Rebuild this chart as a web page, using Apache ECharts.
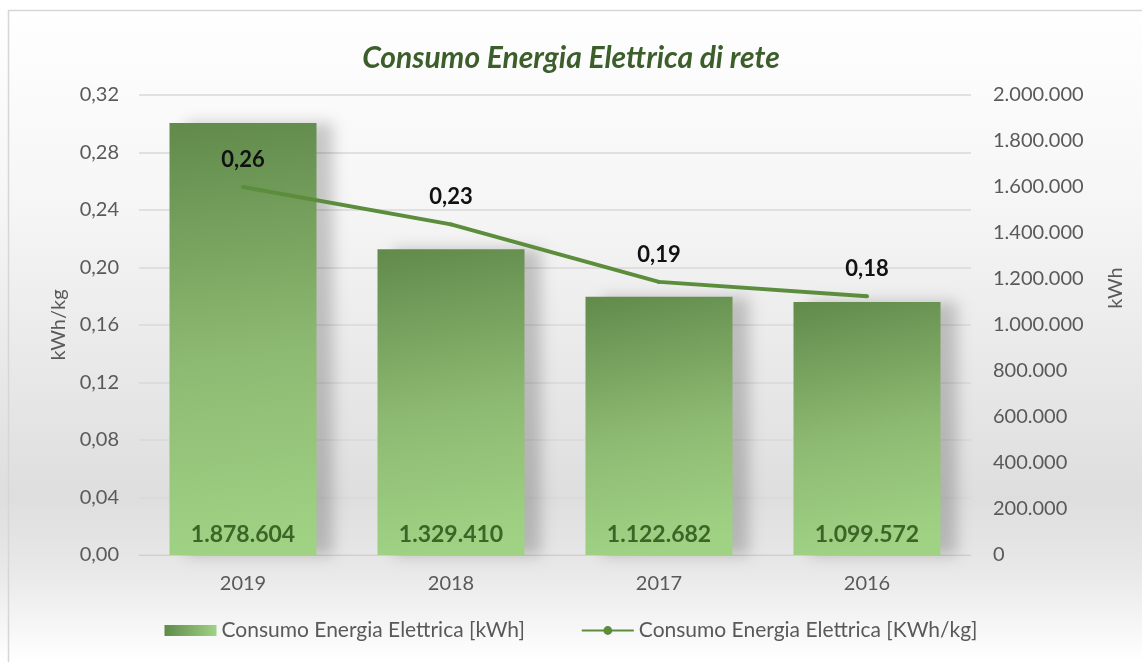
<!DOCTYPE html>
<html><head><meta charset="utf-8">
<script src="https://cdn.jsdelivr.net/npm/echarts@6/dist/echarts.min.js"></script>
<style>html,body{margin:0;padding:0;background:#fff}#c{width:1142px;height:662px}</style>
</head><body><div id="c"></div>
<script>
const categories = ['2019', '2018', '2017', '2016'];
const kwhValues = [1878604, 1329410, 1122682, 1099572];
const kwhPerKgValues = [0.256, 0.23, 0.19, 0.18];
const barName = 'Consumo Energia Elettrica [kWh]';
const lineName = 'Consumo Energia Elettrica [KWh/kg]';
const fmtThousands = v => String(Math.round(v)).replace(/\B(?=(\d{3})+(?!\d))/g, '.');
const fmtDec = v => v.toFixed(2).replace('.', ',');
const FONT = 'Lato';
const chart = echarts.init(document.getElementById('c'), null, {renderer: 'canvas'});
const barGrad = new echarts.graphic.LinearGradient(0, 0, 0.35, 1, [
  {offset: 0, color: '#618a4b'},
  {offset: 0.55, color: '#8dba72'},
  {offset: 1, color: '#a0d284'}
]);
chart.setOption({
  backgroundColor: new echarts.graphic.LinearGradient(0, 0, 0, 1, [
    {offset: 0, color: '#ffffff'},
    {offset: 0.3, color: '#f6f6f6'},
    {offset: 0.75, color: '#dedede'},
    {offset: 0.86, color: '#e8e8e8'},
    {offset: 1, color: '#ffffff'}
  ]),
  animation: false,
  textStyle: {fontFamily: FONT},
  graphic: [{type: 'rect', shape: {x: 8.5, y: 10.5, width: 1140, height: 660}, style: {fill: 'none', stroke: '#d6d6d6', lineWidth: 1.5}, silent: true}],
  title: {
    text: 'Consumo Energia Elettrica di rete', left: 'center', top: 38,
    textStyle: {fontFamily: FONT, fontSize: 30, fontWeight: 'bold', fontStyle: 'italic', color: '#3b5e2b'}
  },
  legend: {
    bottom: 16, left: 'center', itemGap: 56, itemWidth: 52, itemHeight: 11,
    textStyle: {fontFamily: FONT, fontSize: 21, color: '#595959'},
    data: [
      {name: barName, icon: 'rect', itemStyle: {color: new echarts.graphic.LinearGradient(0, 0, 1, 0, [{offset: 0, color: '#5f8a4a'}, {offset: 1, color: '#a0d284'}])}},
      {name: lineName}
    ]
  },
  grid: {left: 139, right: 171, top: 95, bottom: 107, containLabel: false},
  xAxis: {
    type: 'category', data: categories,
    axisLine: {show: true, lineStyle: {color: '#d0d0d0', width: 1}},
    axisTick: {show: false},
    axisLabel: {fontSize: 20, color: '#595959', margin: 19, fontFamily: FONT}
  },
  yAxis: [
    {
      type: 'value', min: 0, max: 0.32, interval: 0.04, name: 'kWh/kg', nameLocation: 'middle', nameGap: 70, nameRotate: 90,
      nameTextStyle: {fontSize: 20, color: '#595959', fontFamily: FONT},
      axisLine: {show: false}, axisTick: {show: false},
      axisLabel: {fontSize: 20, color: '#595959', margin: 20, formatter: v => fmtDec(v), fontFamily: FONT},
      splitLine: {lineStyle: {color: '#d9d9d9', width: 1.5}}
    },
    {
      type: 'value', min: 0, max: 2000000, interval: 200000, name: 'kWh', nameLocation: 'middle', nameGap: 135, nameRotate: 90,
      nameTextStyle: {fontSize: 20, color: '#595959', fontFamily: FONT, padding: [0, 0, 0, 74]},
      axisLine: {show: false}, axisTick: {show: false},
      axisLabel: {fontSize: 20, color: '#595959', margin: 22, formatter: v => fmtThousands(v), fontFamily: FONT},
      splitLine: {show: false}
    }
  ],
  series: [
    {
      name: barName, type: 'bar', yAxisIndex: 1, data: kwhValues, barWidth: 147,
      itemStyle: {color: barGrad, shadowColor: 'rgba(0,0,0,0.2)', shadowBlur: 14, shadowOffsetX: 16, shadowOffsetY: 0},
      label: {show: true, position: 'insideBottom', distance: 9, formatter: p => fmtThousands(p.value),
        fontSize: 23, fontWeight: 'bold', color: '#3b6627', fontFamily: FONT}
    },
    {
      name: lineName, type: 'line', yAxisIndex: 0, data: kwhPerKgValues,
      symbol: 'circle', symbolSize: 4, showSymbol: true,
      lineStyle: {color: '#5b8d3d', width: 4},
      itemStyle: {color: '#5b8d3d'},
      label: {show: true, position: 'top', distance: 14, formatter: p => fmtDec(p.value),
        fontSize: 22, fontWeight: 'bold', color: '#111', fontFamily: FONT}
    }
  ]
});
</script></body></html>
